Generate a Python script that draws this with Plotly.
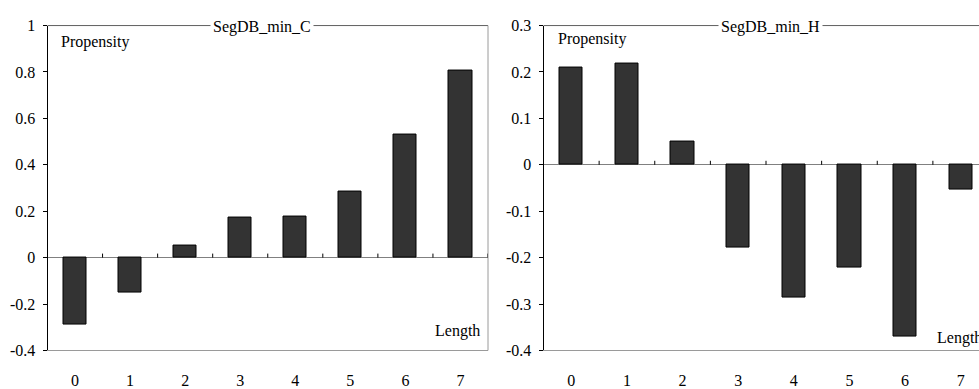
import plotly.graph_objects as go

# ---- data ----
categories = ["0", "1", "2", "3", "4", "5", "6", "7"]
segdb_min_c = [-0.29, -0.15, 0.052, 0.172, 0.179, 0.283, 0.530, 0.807]
segdb_min_h = [0.209, 0.218, 0.051, -0.179, -0.285, -0.222, -0.371, -0.053]
titles = ["SegDB_min_C", "SegDB_min_H"]
yticks_c = [-0.4, -0.2, 0, 0.2, 0.4, 0.6, 0.8, 1]
yticks_h = [-0.4, -0.3, -0.2, -0.1, 0, 0.1, 0.2, 0.3]
y_label = "Propensity"
x_label = "Length"

W, H = 979, 389
FONT = dict(family="Liberation Serif", size=16, color="black")

xpos = list(range(len(categories)))


def tick_text(v):
    return "%g" % v


fig = go.Figure()
fig.add_trace(go.Bar(x=xpos, y=segdb_min_c, width=0.42, xaxis="x", yaxis="y",
                     marker=dict(color="#333333", line=dict(color="black", width=1)),
                     showlegend=False))
fig.add_trace(go.Bar(x=xpos, y=segdb_min_h, width=0.42, xaxis="x2", yaxis="y2",
                     marker=dict(color="#333333", line=dict(color="black", width=1)),
                     showlegend=False))

ydom = [1 - 361 / H, 1 - 18.5 / H]
xdom1 = [47.5 / W, 488 / W]
xdom2 = [543.5 / W, 1.0]
n = len(categories)
right_max = -0.5 + n * (W - 543.5) / 445.0

common_x = dict(tickmode="array", tickvals=xpos, ticktext=categories, ticks="",
                showline=True, linecolor="#9a9a9a", linewidth=1, showgrid=False,
                zeroline=False, tickfont=FONT, ticklabelstandoff=15, fixedrange=True)
common_y = dict(tickmode="array", ticks="outside", ticklen=4, tickcolor="black",
                showline=True, linecolor="black", linewidth=1, showgrid=False,
                zeroline=True, zerolinecolor="#808080", zerolinewidth=1,
                tickfont=FONT, ticklabelstandoff=4, fixedrange=True)

fig.update_layout(
    width=W, height=H, margin=dict(l=0, r=0, t=0, b=0),
    paper_bgcolor="white", plot_bgcolor="white",
    font=FONT,
    xaxis=dict(domain=xdom1, range=[-0.5, n - 0.5], anchor="y", **common_x),
    yaxis=dict(domain=ydom, range=[-0.4, 1.0], anchor="x",
               tickvals=yticks_c, ticktext=[tick_text(v) for v in yticks_c], **common_y),
    xaxis2=dict(domain=xdom2, range=[-0.5, right_max], anchor="y2", **common_x),
    yaxis2=dict(domain=ydom, range=[-0.4, 0.3], anchor="x2",
                tickvals=yticks_h, ticktext=[tick_text(v) for v in yticks_h], **common_y),
    bargap=0,
)

shapes = []
# top borders
for xr, yr in (("x", "y"), ("x2", "y2")):
    shapes.append(dict(type="line", xref=xr + " domain", yref=yr + " domain",
                       x0=0, x1=1, y0=1, y1=1, line=dict(color="#606060", width=1)))
# right border on left panel
shapes.append(dict(type="line", xref="x domain", yref="y domain",
                   x0=1, x1=1, y0=0, y1=1, line=dict(color="#9a9a9a", width=1)))
# small category boundary ticks on the zero line
for xr, yr in (("x", "y"), ("x2", "y2")):
    for i in range(n):
        shapes.append(dict(type="line", xref=xr, yref=yr, ysizemode="pixel", yanchor=0,
                           x0=i + 0.5, x1=i + 0.5, y0=0, y1=4,
                           line=dict(color="black", width=1)))
fig.update_layout(shapes=shapes)

ann = []
# titles centred on the top border
for xc, t in ((261.5, titles[0]), (770.5, titles[1])):
    ann.append(dict(text=t, xref="paper", yref="paper", x=xc / W, y=1 - 20 / H,
                    xanchor="center", yanchor="middle", showarrow=False, font=FONT,
                    bgcolor="white", borderpad=2))
# Propensity labels
for xl, yc in ((59, 36), (556, 33)):
    ann.append(dict(text=y_label, xref="paper", yref="paper", x=xl / W, y=1 - yc / H,
                    xanchor="left", yanchor="middle", showarrow=False, font=FONT))
# Length labels (the right one runs off the page edge, as in the reference)
for xr_, yc in ((482, 340), (984, 348)):
    ann.append(dict(text=x_label, xref="paper", yref="paper", x=xr_ / W, y=1 - yc / H,
                    xanchor="right", yanchor="middle", showarrow=False, font=FONT))
fig.update_layout(annotations=ann)

fig.write_html("out.html")
